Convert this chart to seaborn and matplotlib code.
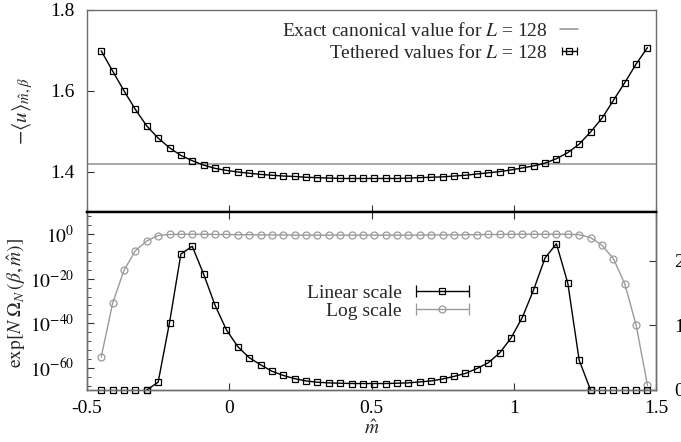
import numpy as np
import matplotlib
matplotlib.use("Agg")
import matplotlib.pyplot as plt
import seaborn as sns
from matplotlib.lines import Line2D
from matplotlib.container import ErrorbarContainer
from matplotlib.legend_handler import HandlerErrorbar
from matplotlib.ticker import FixedLocator, NullFormatter

# magnetisation grid (m hat)
m_hat = [-0.45, -0.41, -0.37, -0.33, -0.29, -0.25, -0.21, -0.17, -0.13, -0.09,
         -0.05, -0.01, 0.03, 0.07, 0.11, 0.15, 0.19, 0.23, 0.27, 0.31,
         0.35, 0.39, 0.43, 0.47, 0.51, 0.55, 0.59, 0.63, 0.67, 0.71,
         0.75, 0.79, 0.83, 0.87, 0.91, 0.95, 0.99, 1.03, 1.07, 1.11,
         1.15, 1.19, 1.23, 1.27, 1.31, 1.35, 1.39, 1.43, 1.47]

# top panel: -<u> tethered values and exact canonical value
u_tethered = [1.699, 1.649, 1.600, 1.554, 1.513, 1.483, 1.459, 1.440, 1.427, 1.416,
              1.408, 1.403, 1.399, 1.396, 1.393, 1.391, 1.389, 1.388, 1.386, 1.385,
              1.384, 1.383, 1.383, 1.383, 1.383, 1.383, 1.383, 1.384, 1.385, 1.386,
              1.387, 1.389, 1.391, 1.394, 1.397, 1.400, 1.404, 1.409, 1.414, 1.421,
              1.432, 1.447, 1.468, 1.498, 1.532, 1.576, 1.620, 1.666, 1.707]
u_canonical = 1.42

# bottom panel: exp[N Omega_N] on linear scale (right axis)
omega_linear = [0.0, 0.0, 0.0, 0.0, 0.0, 0.12, 1.04, 2.10, 2.22, 1.79,
                1.31, 0.93, 0.67, 0.50, 0.39, 0.29, 0.225, 0.175, 0.14, 0.12,
                0.11, 0.105, 0.10, 0.10, 0.10, 0.10, 0.105, 0.11, 0.125, 0.14,
                0.17, 0.21, 0.256, 0.33, 0.42, 0.57, 0.80, 1.12, 1.55, 2.04,
                2.26, 1.65, 0.46, 0.0, 0.0, 0.0, 0.0, 0.0, 0.0]

# bottom panel: exp[N Omega_N] on log scale (left axis), as log10
omega_log10 = [-55.2, -31.0, -16.2, -7.4, -3.0, -0.6, -0.1, 0.0, 0.0, 0.0,
               -0.1, -0.1, -0.2, -0.2, -0.3, -0.3, -0.3, -0.4, -0.4, -0.4,
               -0.4, -0.4, -0.4, -0.4, -0.4, -0.4, -0.4, -0.4, -0.4, -0.3,
               -0.3, -0.3, -0.2, -0.2, -0.1, -0.1, 0.0, 0.0, 0.0, 0.0,
               0.0, 0.0, -0.2, -1.5, -4.9, -10.9, -22.2, -40.7, -67.9]

sns.set_style("ticks")
plt.rcParams['font.family'] = ['Liberation Serif', 'DejaVu Serif']
plt.rcParams['mathtext.fontset'] = 'stix'
plt.rcParams['font.size'] = 14
plt.rcParams['axes.unicode_minus'] = False

gray = '#9a9a9a'
frame = '#6e6e6e'

fig = plt.figure(figsize=(6.81, 4.42), dpi=100)
ax_top = fig.add_axes([87 / 681, (442 - 212) / 442, 569 / 681, 202 / 442])
ax_bot = fig.add_axes([87 / 681, (442 - 390) / 442, 569 / 681, 178 / 442])
ax_lin = ax_bot.twinx()

# ---- top panel
ax_top.axhline(u_canonical, color=gray, lw=1.2)
sns.lineplot(x=m_hat, y=u_tethered, ax=ax_top, color='black', lw=1.0,
             marker='s', markersize=5, markerfacecolor='none',
             markeredgecolor='black', markeredgewidth=0.9)
ax_top.set_xlim(-0.5, 1.5)
ax_top.set_ylim(1.3, 1.8)
ax_top.set_yticks([1.4, 1.6, 1.8])
ax_top.set_yticklabels(['1.4', '1.6', '1.8'])
ax_top.set_xticks([-0.5, 0, 0.5, 1, 1.5])
ax_top.tick_params(direction='in', length=5, labelbottom=False, pad=9, colors='#333333',
                   labelcolor='black')
ax_top.set_ylabel(r'$-\langle u\rangle_{\hat{m},\beta}$', fontsize=15)
ax_top.yaxis.set_label_coords(-0.092, 0.5)

h_exact = Line2D([], [], color=gray, lw=1.2)
h_teth = ax_top.errorbar([np.nan], [np.nan], xerr=[0.1], fmt='s', color='black',
                         mfc='none', ms=5, mew=0.9, capsize=3, elinewidth=1)
ax_top.legend([h_exact, h_teth],
              ['Exact canonical value for $L$ = 128', 'Tethered values for $L$ = 128'],
              handler_map={ErrorbarContainer: HandlerErrorbar(xerr_size=0.38)},
              loc='upper right', bbox_to_anchor=(0.88, 0.99), frameon=False,
              markerfirst=False, handlelength=0.9, handletextpad=0.65, borderpad=0,
              labelspacing=0.2, fontsize=14)

# ---- bottom panel, log scale (left)
ax_bot.set_yscale('log')
omega_log = 10.0 ** np.array(omega_log10)
sns.lineplot(x=m_hat, y=omega_log, ax=ax_bot, color=gray, lw=1.0,
             marker='o', markersize=5, markerfacecolor='none',
             markeredgecolor=gray, markeredgewidth=0.9, clip_on=False)
ax_bot.set_xlim(-0.5, 1.5)
ax_bot.set_ylim(1e-70, 1e10)
ax_bot.yaxis.set_major_locator(FixedLocator([1e-60, 1e-40, 1e-20, 1e0]))
ax_bot.set_yticklabels([r'$10^{-60}$', r'$10^{-40}$', r'$10^{-20}$', r'$10^{0}$'])
minor = [10.0 ** e for e in range(-68, 10, 4) if e % 20 != 0]
ax_bot.yaxis.set_minor_locator(FixedLocator(minor))
ax_bot.yaxis.set_minor_formatter(NullFormatter())
ax_bot.set_xticks([-0.5, 0, 0.5, 1, 1.5])
ax_bot.set_xticklabels(['-0.5', '0', '0.5', '1', '1.5'])
ax_bot.tick_params(axis='both', which='major', direction='in', length=5, pad=9,
                   top=True, right=False, colors='#333333', labelcolor='black')
ax_bot.tick_params(axis='x', which='major', pad=7)
ax_bot.tick_params(axis='y', which='minor', direction='in', length=3, right=False,
                   colors='#333333')
ax_bot.set_ylabel(r'$\exp[N\;\Omega_N\,(\beta,\hat{m})]$', fontsize=14)
ax_bot.yaxis.set_label_coords(-0.104, 0.49)
ax_bot.set_xlabel(r'$\hat{m}$', fontsize=14)
ax_bot.xaxis.set_label_coords(0.5, -0.165)

# ---- bottom panel, linear scale (right)
x_arr = np.array(m_hat)
lin_arr = np.array(omega_linear)
sns.lineplot(x=x_arr[4:44], y=lin_arr[4:44], ax=ax_lin, color='black', lw=1.0,
             marker='s', markersize=5, markerfacecolor='none',
             markeredgecolor='black', markeredgewidth=0.9, clip_on=False)
wings = np.r_[0:5, 43:49]
sns.lineplot(x=x_arr[wings], y=lin_arr[wings], ax=ax_lin, color='black',
             linestyle='none', marker='s', markersize=5, markerfacecolor='none',
             markeredgecolor='black', markeredgewidth=0.9, clip_on=False)
ax_lin.set_ylim(0, 2.75)
ax_lin.set_yticks([0, 1, 2])
ax_lin.set_yticklabels(['0', '1', '2'])
ax_lin.set_ylabel('')
ax_lin.tick_params(axis='y', direction='in', length=5, pad=13, colors='#333333',
                   labelcolor='black')

h_lin = ax_lin.errorbar([np.nan], [np.nan], xerr=[0.1], fmt='s', color='black',
                        mfc='none', ms=5, mew=0.9, capsize=4, elinewidth=1)
h_log = ax_lin.errorbar([np.nan], [np.nan], xerr=[0.1], fmt='o', color=gray,
                        mfc='none', ms=5, mew=0.9, capsize=4, elinewidth=1)
ax_lin.legend([h_lin, h_log], ['Linear scale', 'Log scale'],
              handler_map={ErrorbarContainer: HandlerErrorbar(xerr_size=1.38)},
              loc='upper right', bbox_to_anchor=(0.689, 0.65), frameon=False,
              markerfirst=False, handlelength=2.77, handletextpad=0.7, borderpad=0,
              labelspacing=0.05, fontsize=14)

for ax in (ax_top, ax_bot, ax_lin):
    for side in ('left', 'right', 'top', 'bottom'):
        ax.spines[side].set_color(frame)
        ax.spines[side].set_linewidth(1.0)
ax_top.spines['bottom'].set_color('black')
ax_top.spines['bottom'].set_linewidth(1.6)
ax_bot.spines['top'].set_color('black')
ax_bot.spines['top'].set_linewidth(1.6)
ax_lin.spines['top'].set_color('black')
ax_lin.spines['top'].set_linewidth(1.6)

fig.savefig('out.png', dpi=100)
